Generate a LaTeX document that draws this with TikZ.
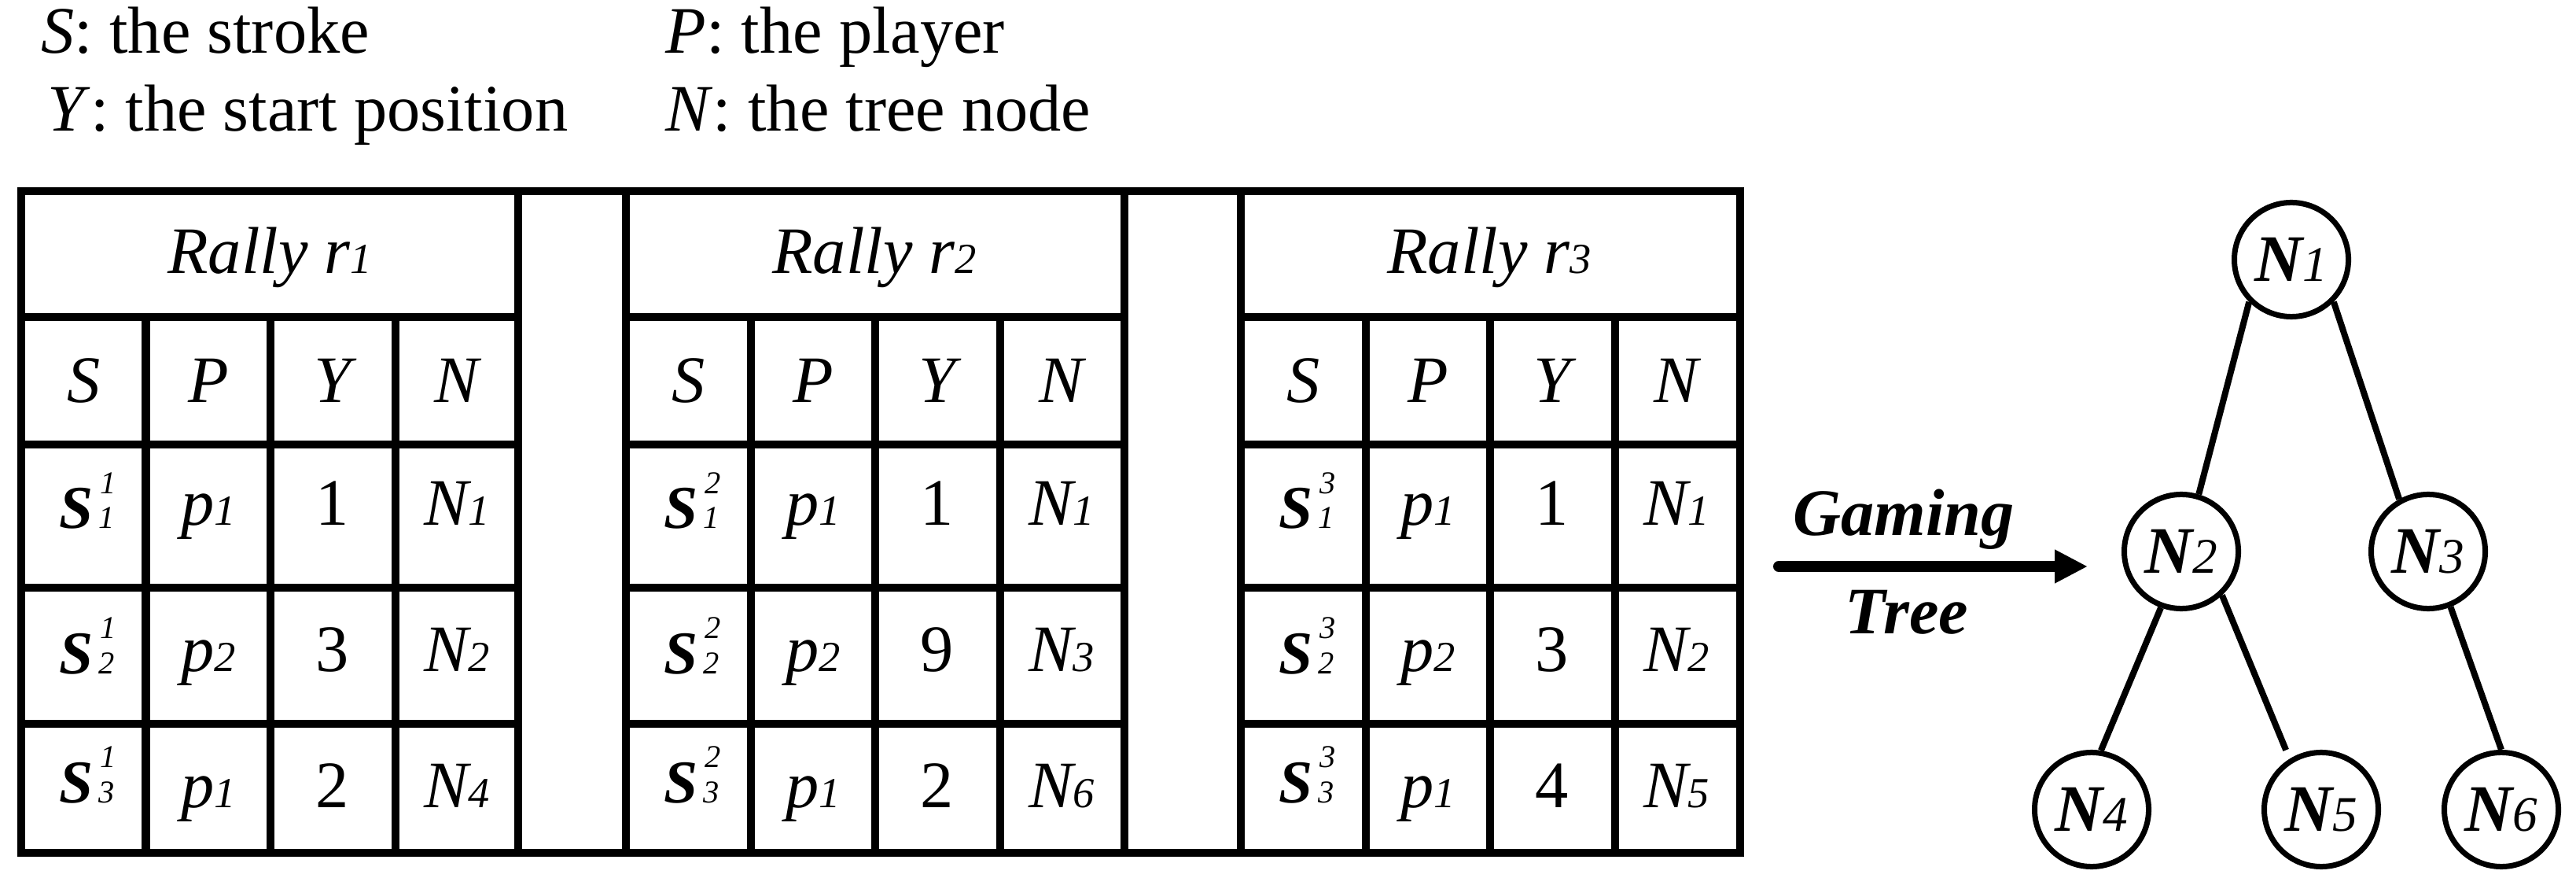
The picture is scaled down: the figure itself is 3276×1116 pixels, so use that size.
\documentclass[tikz,border=0pt]{standalone}
\usepackage{fontspec}
\setmainfont{Liberation Serif}
\usetikzlibrary{arrows.meta}
\newcommand{\sm}[1]{{\fontsize{15.5}{16}\selectfont #1}}
\newcommand{\scrp}{\fontsize{11.5}{12}\selectfont\mdseries\itshape}
\newcommand{\strk}[2]{{\fontsize{22}{24}\selectfont\bfseries\itshape S}\kern.07cm\rlap{\raisebox{.44cm}{\kern.02cm\scrp #1}}{\scrp #2}}
\newcommand{\tnode}[1]{\bfseries\itshape N{\fontsize{18}{18}\selectfont\mdseries #1}}

\begin{document}
\begin{tikzpicture}[x=.01cm,y=-.01cm,
    txt/.style={anchor=base,inner sep=0pt,font=\fontsize{24}{28}\selectfont},
    grid/.style={line width=.1cm},
    tree/.style={circle,draw,line width=.07cm,minimum size=1.45cm,inner sep=0pt,font=\fontsize{24}{28}\selectfont},
    edge/.style={line width=.08cm}]
  \useasboundingbox (0,0) rectangle (3276,1116);
  % legend
  \node[txt,anchor=base west] (ls) at (52,68) {\textit{S}: the stroke};
  \node[txt,anchor=base west] (ly) at (60,167) {\textit{Y}: the start position};
  \node[txt,anchor=base west] (lp) at (846,68) {\textit{P}: the player};
  \node[txt,anchor=base west] (ln) at (846,167) {\textit{N}: the tree node};
  % rallies
  \draw[grid] (27,243) rectangle (2213,1084);
  \foreach \x in {659,796,1430,1578} \draw[grid] (\x,243) -- (\x,1084);
  \foreach \t/\xo/\ya/\yb/\yc/\na/\nb/\nc in {1/27/1/3/2/1/2/4,2/796/1/9/2/1/3/6,3/1578/1/3/4/1/2/5}{
    \foreach \y in {403,565,747,920} \draw[grid] (\xo,\y) -- ++(634,0);
    \foreach \c in {1,2,3} \draw[grid] (\xo+158.5*\c,403) -- ++(0,681);
    \node[txt] (rally\t) at (\xo+316,348) {\itshape Rally r\sm{\t}};
    \node[txt] (hs\t) at (\xo+80,512) {\itshape S};
    \node[txt] (hp\t) at (\xo+238,512) {\itshape P};
    \node[txt] (hy\t) at (\xo+396,512) {\itshape Y};
    \node[txt] (hn\t) at (\xo+554,512) {\itshape N};
    \node[txt] (s\t-1) at (\xo+84,672) {\strk{\t}{1}};
    \node[txt] (p\t-1) at (\xo+238,668) {\itshape p\sm{1}};
    \node[txt] (y\t-1) at (\xo+396,668) {\ya};
    \node[txt] (tn\t-1) at (\xo+554,668) {\itshape N\sm{\na}};
    \node[txt] (s\t-2) at (\xo+84,856) {\strk{\t}{2}};
    \node[txt] (p\t-2) at (\xo+238,853) {\itshape p\sm{2}};
    \node[txt] (y\t-2) at (\xo+396,853) {\yb};
    \node[txt] (tn\t-2) at (\xo+554,853) {\itshape N\sm{\nb}};
    \node[txt] (s\t-3) at (\xo+84,1020) {\strk{\t}{3}};
    \node[txt] (p\t-3) at (\xo+238,1026) {\itshape p\sm{1}};
    \node[txt] (y\t-3) at (\xo+396,1026) {\yc};
    \node[txt] (tn\t-3) at (\xo+554,1026) {\itshape N\sm{\nc}};
  }
  % arrow
  \coordinate (ga) at (2262,720);
  \coordinate (gb) at (2655,720);
  \draw[line width=.14cm,line cap=round,-{Triangle[length=.42cm,width=.4cm]}] (ga) -- (gb);
  \node[txt,font=\fontsize{24}{28}\selectfont\bfseries\itshape] (gm) at (2421,680) {Gaming};
  \node[txt,font=\fontsize{24}{28}\selectfont\bfseries\itshape] (tr) at (2425,805) {Tree};
  % gaming tree
  \node[tree] (N1) at (2914,330) {\tnode{1}};
  \node[tree] (N2) at (2774,701) {\tnode{2}};
  \node[tree] (N3) at (3088,701) {\tnode{3}};
  \node[tree] (N4) at (2660,1029) {\tnode{4}};
  \node[tree] (N5) at (2952,1029) {\tnode{5}};
  \node[tree] (N6) at (3181,1029) {\tnode{6}};
  \draw[edge] (N1.225) -- (N2.73);
  \draw[edge] (N1.315) -- (N3.119);
  \draw[edge] (N2.250) -- (N4.81);
  \draw[edge,shorten >=.12cm] (N2.313) -- (N5.122);
  \draw[edge] (N3.292) -- (N6.90);
\end{tikzpicture}
\end{document}
